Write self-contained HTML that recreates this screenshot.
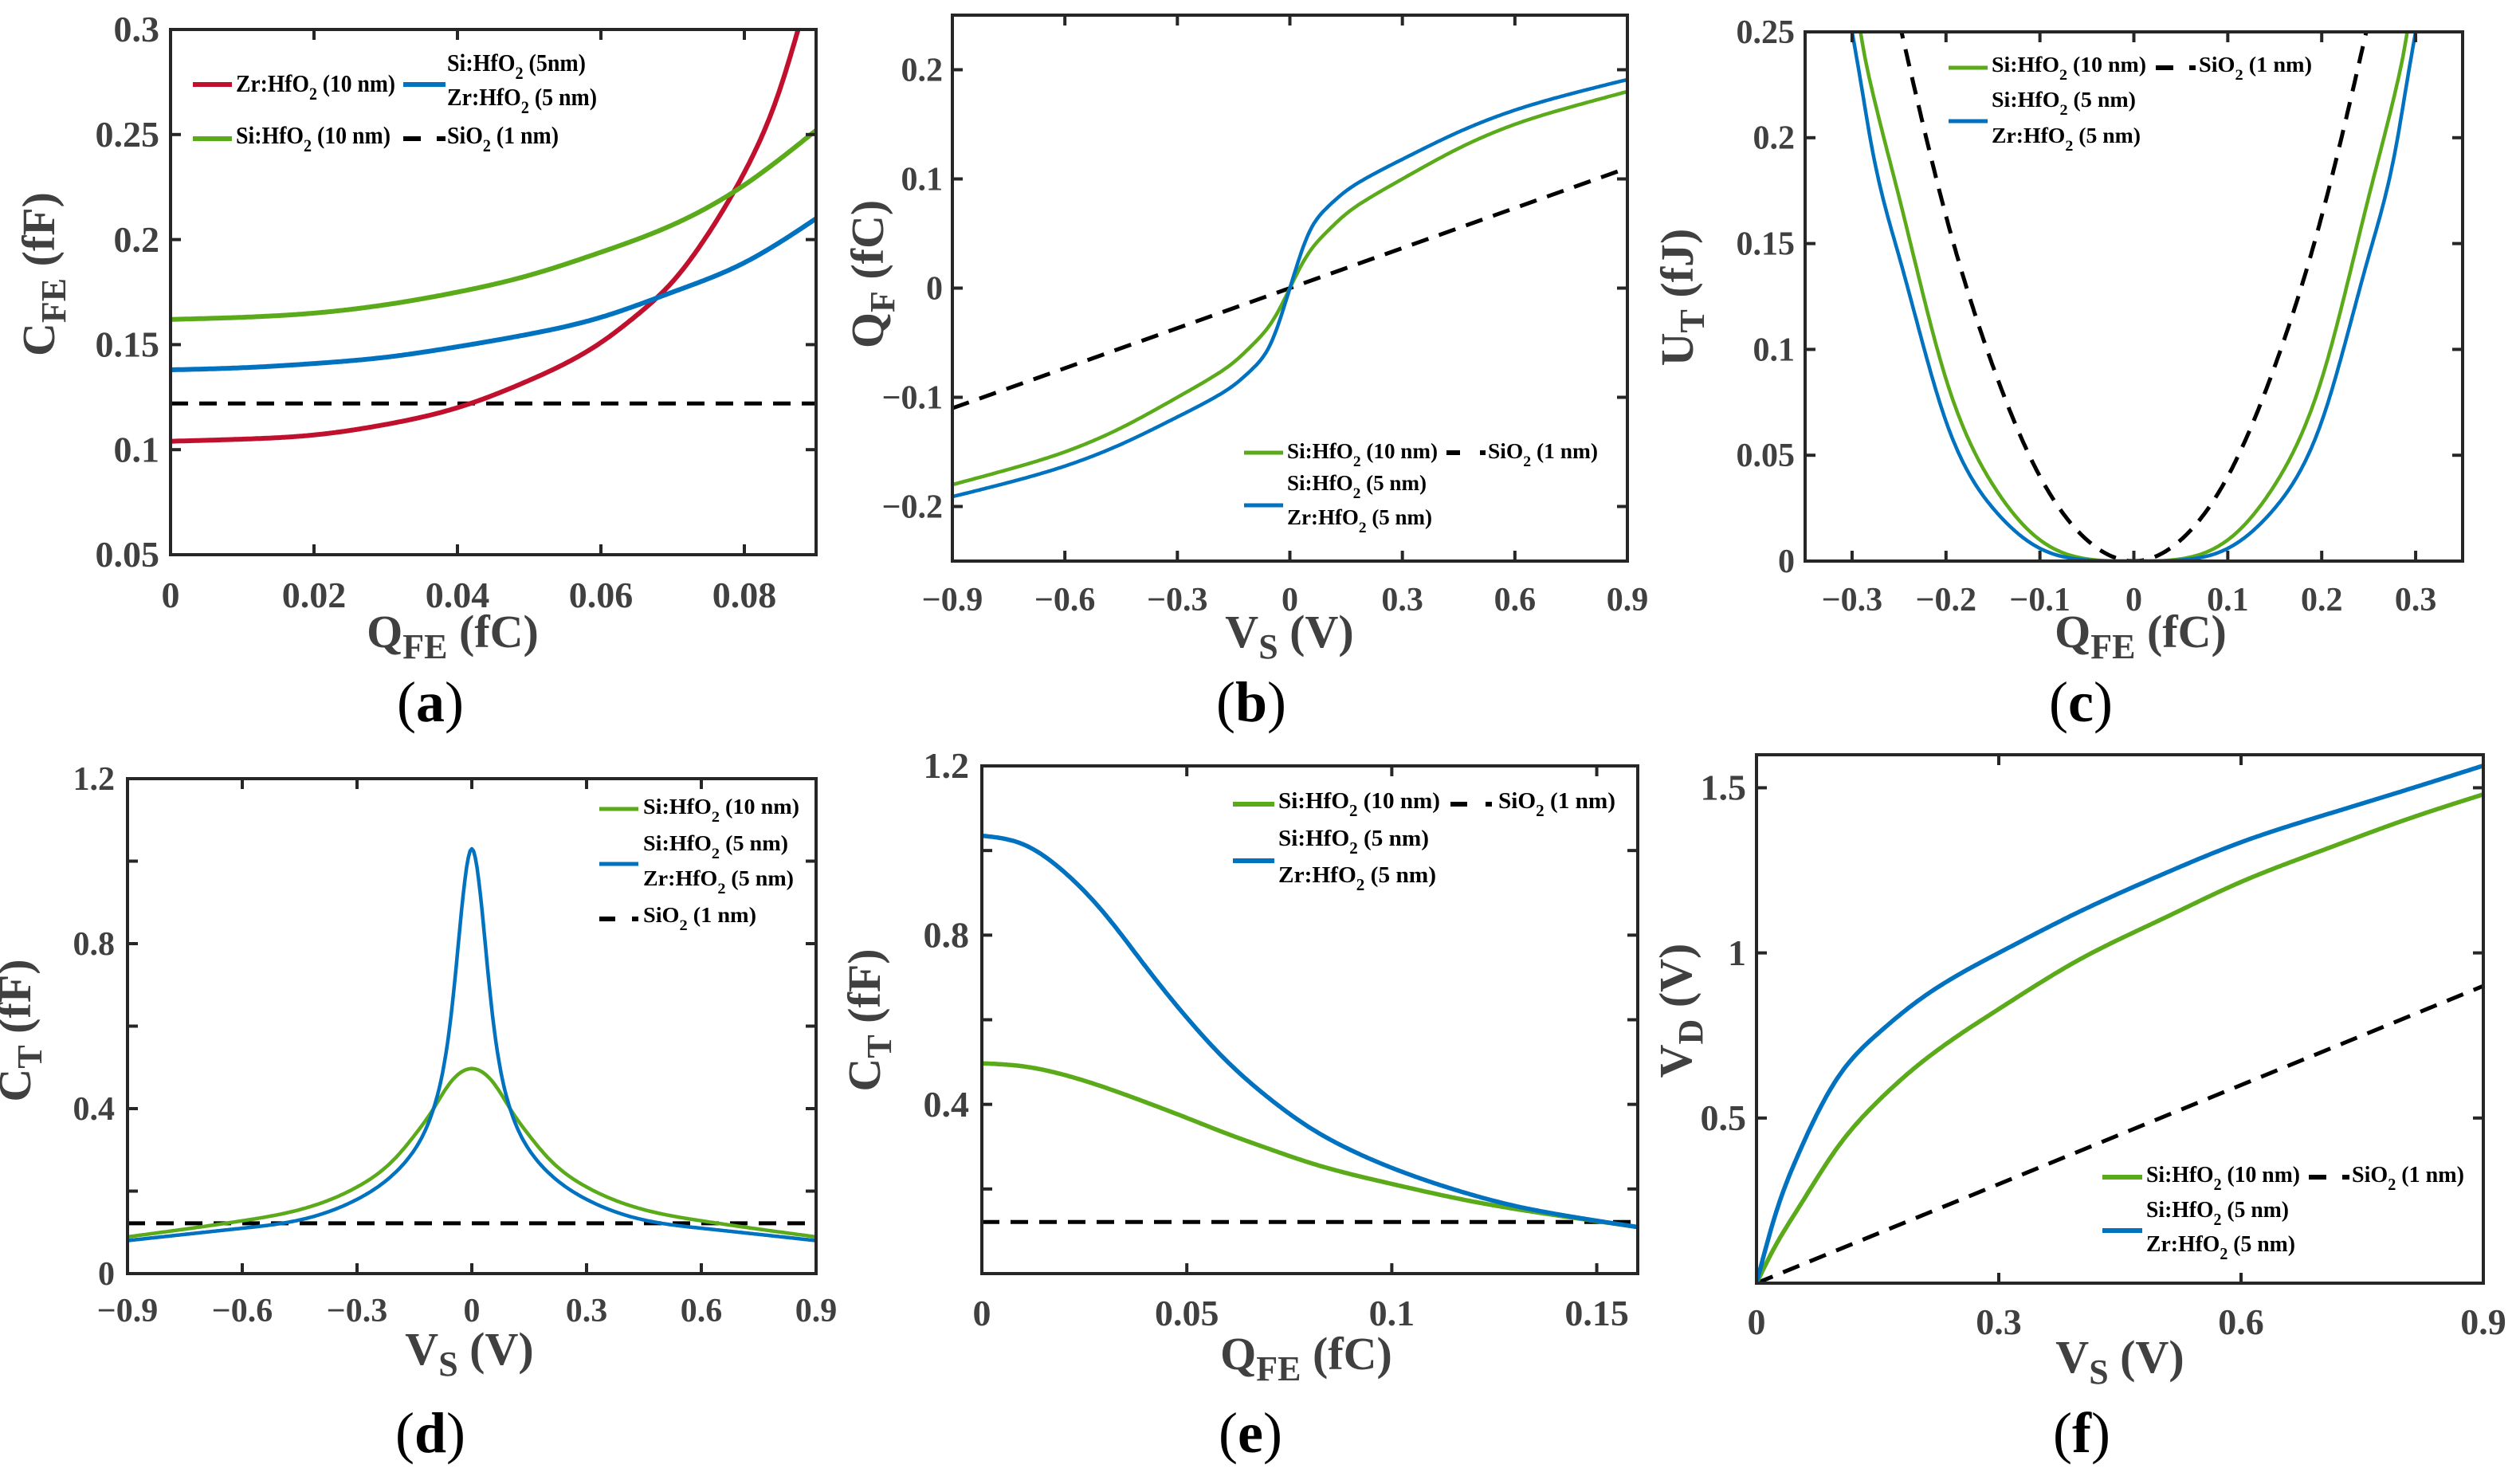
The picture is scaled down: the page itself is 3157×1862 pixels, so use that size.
<!DOCTYPE html>
<html><head><meta charset="utf-8">
<style>
html,body{margin:0;padding:0;background:#fff;}
svg{display:block;}
text{font-family:"Liberation Serif",serif;}
</style></head>
<body>
<svg id="fig" width="3157" height="1862" viewBox="0 0 3157 1862" xmlns="http://www.w3.org/2000/svg">
<rect x="0" y="0" width="3157" height="1862" fill="#fff"/>
</svg>
<script>
// ---------- data ----------
const aX=[0,0.01,0.02,0.03,0.04,0.05,0.06,0.07,0.08,0.09];
const aGreen=[0.162,0.163,0.165,0.169,0.175,0.183,0.194,0.207,0.226,0.252];
const aBlue=[0.138,0.139,0.141,0.144,0.149,0.155,0.163,0.175,0.189,0.210];
const aRedX=[0,0.01,0.02,0.03,0.04,0.05,0.06,0.065,0.07,0.075,0.08,0.085,0.0875];
const aRed=[0.104,0.105,0.107,0.112,0.120,0.133,0.151,0.164,0.180,0.203,0.232,0.272,0.300];
const aDash=[0.122,0.122];
const aDashX=[0,0.09];

const bX=[-0.9,-0.75,-0.6,-0.45,-0.3,-0.2,-0.15,-0.1,-0.05,-0.02,0,0.02,0.05,0.1,0.15,0.2,0.3,0.45,0.6,0.75,0.9];
const bGreen=[-0.180,-0.166,-0.150,-0.128,-0.100,-0.080,-0.068,-0.052,-0.032,-0.014,0,0.014,0.032,0.052,0.068,0.080,0.100,0.128,0.150,0.166,0.180];
const bBlue=[-0.191,-0.178,-0.163,-0.143,-0.118,-0.100,-0.089,-0.074,-0.050,-0.022,0,0.022,0.050,0.074,0.089,0.100,0.118,0.143,0.163,0.178,0.191];
const bDashX=[-0.9,0.9];
const bDash=[-0.110,0.110];

const cX=[-0.30,-0.291,-0.28,-0.25,-0.2,-0.15,-0.1,-0.05,0,0.05,0.1,0.15,0.2,0.25,0.28,0.291,0.30];
const cGreen=[0.28,0.25,0.225,0.172,0.086,0.036,0.010,0.001,0,0.001,0.010,0.036,0.086,0.172,0.225,0.25,0.28];
const cBlue=[0.25,0.227,0.198,0.144,0.066,0.025,0.006,0.0005,0,0.0005,0.006,0.025,0.066,0.144,0.198,0.227,0.25];
const cDashX=[-0.25,-0.2,-0.15,-0.1,-0.05,0,0.05,0.1,0.15,0.2,0.25];
const cDash=[0.255,0.163,0.092,0.040,0.010,0,0.010,0.040,0.092,0.163,0.255];

const dX=[-0.9,-0.6,-0.45,-0.3,-0.2,-0.15,-0.1,-0.07,-0.05,-0.03,0,0.03,0.05,0.07,0.1,0.15,0.2,0.3,0.45,0.6,0.9];
const dGreen=[0.089,0.128,0.155,0.21,0.28,0.335,0.40,0.445,0.47,0.487,0.497,0.487,0.47,0.445,0.40,0.335,0.28,0.21,0.155,0.128,0.089];
const dBlue=[0.08,0.11,0.13,0.18,0.245,0.30,0.40,0.52,0.66,0.85,1.03,0.85,0.66,0.52,0.40,0.30,0.245,0.18,0.13,0.11,0.08];
const dDashX=[-0.9,0.9];
const dDash=[0.122,0.122];

const eX=[0,0.01,0.02,0.03,0.04,0.05,0.06,0.07,0.08,0.09,0.10,0.11,0.12,0.13,0.14,0.15,0.16];
const eGreen=[0.497,0.49,0.47,0.44,0.405,0.368,0.33,0.295,0.262,0.235,0.212,0.190,0.170,0.153,0.138,0.124,0.110];
const eBlue=[1.035,1.015,0.95,0.85,0.725,0.605,0.50,0.415,0.345,0.292,0.250,0.215,0.185,0.160,0.141,0.125,0.110];
const eDashX=[0,0.16];
const eDash=[0.122,0.122];

const fX=[0,0.025,0.05,0.1,0.15,0.2,0.3,0.4,0.5,0.6,0.7,0.8,0.9];
const fGreen=[0,0.12,0.22,0.41,0.55,0.66,0.83,0.98,1.10,1.215,1.31,1.40,1.48];
const fBlue=[0,0.22,0.38,0.62,0.755,0.855,1.0,1.125,1.235,1.335,1.415,1.49,1.567];
const fDashX=[0,0.9];
const fDash=[0,0.9];

// tick arrays
const aXTicks=[0,0.02,0.04,0.06,0.08], aXLabels=["0","0.02","0.04","0.06","0.08"];
const aYTicks=[0.05,0.1,0.15,0.2,0.25,0.3], aYLabels=["0.05","0.1","0.15","0.2","0.25","0.3"];
const bXTicks=[-0.9,-0.6,-0.3,0,0.3,0.6,0.9], bXLabels=["−0.9","−0.6","−0.3","0","0.3","0.6","0.9"];
const bYTicks=[-0.2,-0.1,0,0.1,0.2], bYLabels=["−0.2","−0.1","0","0.1","0.2"];
const cXTicks=[-0.3,-0.2,-0.1,0,0.1,0.2,0.3], cXLabels=["−0.3","−0.2","−0.1","0","0.1","0.2","0.3"];
const cYTicks=[0,0.05,0.1,0.15,0.2,0.25], cYLabels=["0","0.05","0.1","0.15","0.2","0.25"];
const dXTicks=bXTicks, dXLabels=bXLabels;
const dYTicks=[0,0.2,0.4,0.6,0.8,1.0,1.2], dYLabels=["0","","0.4","","0.8","","1.2"];
const eXTicks=[0,0.05,0.1,0.15], eXLabels=["0","0.05","0.1","0.15"];
const eYTicks=[0.2,0.4,0.6,0.8,1.0,1.2], eYLabels=["","0.4","","0.8","","1.2"];
const fXTicks=[0,0.3,0.6,0.9], fXLabels=["0","0.3","0.6","0.9"];
const fYTicks=[0.5,1,1.5], fYLabels=["0.5","1","1.5"];

const GREEN="#5aaa1a", BLUE="#0072bf", RED="#c0102e", TXT="#404040";
const NS="http://www.w3.org/2000/svg";
const svg=document.getElementById('fig');

function mk(tag,attrs,parent){const e=document.createElementNS(NS,tag);for(const k in attrs)e.setAttribute(k,attrs[k]);(parent||svg).appendChild(e);return e;}

// natural cubic spline interpolation in data space
function interp(xs,ys){
  const n=xs.length;
  if(n<3)return x=>ys[0]+(ys[n-1]-ys[0])*(x-xs[0])/(xs[n-1]-xs[0]);
  const h=[],al=[],l=[1],mu=[0],z=[0],c=new Array(n).fill(0),b=[],d=[];
  for(let i=0;i<n-1;i++)h.push(xs[i+1]-xs[i]);
  for(let i=1;i<n-1;i++)al[i]=3/h[i]*(ys[i+1]-ys[i])-3/h[i-1]*(ys[i]-ys[i-1]);
  for(let i=1;i<n-1;i++){l[i]=2*(xs[i+1]-xs[i-1])-h[i-1]*mu[i-1];mu[i]=h[i]/l[i];z[i]=(al[i]-h[i-1]*z[i-1])/l[i];}
  for(let j=n-2;j>=0;j--){c[j]=(j>0?z[j]:0)-mu[j]*c[j+1];if(j===0)c[0]=0;}
  for(let j=0;j<n-1;j++){b[j]=(ys[j+1]-ys[j])/h[j]-h[j]*(c[j+1]+2*c[j])/3;d[j]=(c[j+1]-c[j])/(3*h[j]);}
  return function(x){
    let i=0;while(i<n-2&&x>xs[i+1])i++;
    const t=x-xs[i];return ys[i]+b[i]*t+c[i]*t*t+d[i]*t*t*t;
  };
}

function panel(p){
  const g=mk('g',{});
  
  
  const sx=v=>p.x0+(v-p.xmin)/(p.xmax-p.xmin)*(p.x1-p.x0);
  const sy=v=>p.y1-(v-p.ymin)/(p.ymax-p.ymin)*(p.y1-p.y0);
  const cp=mk('clipPath',{id:'clip-'+p.id},g);
  mk('rect',{x:p.x0,y:p.y0,width:p.x1-p.x0,height:p.y1-p.y0},cp);
  const sg=mk('g',{'clip-path':'url(#clip-'+p.id+')'},g);
  p.series.forEach(s=>{
    const f=interp(s.x,s.y);
    const N=s.x.length<=2?1:400;
    const a=s.x[0],b=s.x[s.x.length-1];
    let d="";
    for(let k=0;k<=N;k++){const xv=a+(b-a)*k/N;d+=(k?"L":"M")+sx(xv).toFixed(1)+","+sy(f(xv)).toFixed(1);}
    const path=mk('path',{d:d,fill:'none',stroke:s.color,'stroke-width':s.w||5,'stroke-linejoin':'round'},sg);
    if(s.dash)path.setAttribute('stroke-dasharray',s.dash);
    
    
  });
  const fr=mk('rect',{x:p.x0,y:p.y0,width:p.x1-p.x0,height:p.y1-p.y0,fill:'none',stroke:'#262626','stroke-width':4},g);
  
  
  const tl=13;
  p.xt.forEach((v,i)=>{
    const x=sx(v);
    mk('line',{x1:x,x2:x,y1:p.y1,y2:p.y1-tl,stroke:'#262626','stroke-width':4},g);
    mk('line',{x1:x,x2:x,y1:p.y0,y2:p.y0+tl,stroke:'#262626','stroke-width':4},g);
    if(p.xl[i]){
      const t=mk('text',{x:x,y:p.xlb,'text-anchor':'middle','font-size':p.fs,'font-weight':'bold',fill:TXT},g);
      t.textContent=p.xl[i];
      
      
    }
  });
  p.yt.forEach((v,i)=>{
    const y=sy(v);
    mk('line',{x1:p.x0,x2:p.x0+tl,y1:y,y2:y,stroke:'#262626','stroke-width':4},g);
    mk('line',{x1:p.x1,x2:p.x1-tl,y1:y,y2:y,stroke:'#262626','stroke-width':4},g);
    if(p.yl[i]){
      const t=mk('text',{x:p.ylr,y:y+p.fs*0.33,'text-anchor':'end','font-size':p.fs,'font-weight':'bold',fill:TXT},g);
      t.textContent=p.yl[i];
      
      
    }
  });
  const xt=mk('text',{x:p.xtc,y:p.xtb,'text-anchor':'middle','font-size':58,'font-weight':'bold',fill:TXT},g);
  
  
  xt.innerHTML=p.xtitle;
  const yt=mk('text',{x:0,y:0,'text-anchor':'middle','font-size':58,'font-weight':'bold',fill:TXT,transform:'translate('+p.ytx+','+p.yty+') rotate(-90)'},g);
  
  
  yt.innerHTML=p.ytitle;
  const pl=mk('text',{x:p.plx,y:p.ply,'text-anchor':'middle','font-size':72,fill:'#000'},g);
  
  
  pl.innerHTML='(<tspan font-weight="bold">'+p.id+'</tspan>)';
  const lg=mk('g',{},g);
  
  
  p.legend.lines.forEach(l=>{
    const ln=mk('line',{x1:l[0],x2:l[1],y1:l[2],y2:l[2],stroke:l[3],'stroke-width':l[4]||6},lg);
    
    
  });
  p.legend.texts.forEach(t=>{
    const te=mk('text',{x:t[0],y:t[1],'font-size':p.legend.fs,'font-weight':'bold',fill:'#000',textLength:t[3],lengthAdjust:'spacingAndGlyphs'},lg);
    
    
    te.innerHTML=t[2];
  });
}
function sub(a,b,c){return a+'<tspan dy="10" font-size="0.72em">'+b+'</tspan><tspan dy="-10">'+c+'</tspan>';}
const SIH10=sub('Si:HfO','2',' (10 nm)'), SIH5=sub('Si:HfO','2',' (5 nm)'), ZRH5=sub('Zr:HfO','2',' (5 nm)'), SIO=sub('SiO','2',' (1 nm)');
function dashSw(x1,x2,x3,x4,y){return [[x1,x2,y,'#000'],[x3,x4,y,'#000']];}

panel({id:'a',x0:214,x1:1024,y0:37,y1:696,xmin:0,xmax:0.09,ymin:0.05,ymax:0.3,
  xt:aXTicks,xl:aXLabels,yt:aYTicks,yl:aYLabels,fs:46,xlb:762,ylr:200,
  xtitle:'Q<tspan dy="14" font-size="44">FE</tspan><tspan dy="-14"> (fC)</tspan>',xtc:568,xtb:812,
  ytitle:'C<tspan dy="14" font-size="44">FE</tspan><tspan dy="-14"> (fF)</tspan>',ytx:68,yty:344,plx:540,ply:905,
  series:[{name:'sio2-line',x:aDashX,y:aDash,color:'#000',dash:'22 14',w:5},
          {name:'zr-hfo2-10nm-curve',x:aRedX,y:aRed,color:RED,w:6},
          {name:'si-hfo2-10nm-curve',x:aX,y:aGreen,color:GREEN,w:6},
          {name:'si-zr-hfo2-5nm-curve',x:aX,y:aBlue,color:BLUE,w:6}],
  legend:{fs:31,lines:[[242,291,106,RED],[506,559,106,BLUE],[242,291,174,GREEN]].concat(dashSw(506,528,548,559,174)),
    texts:[[296,115,sub('Zr:HfO','2',' (10 nm)'),200],[561,89,sub('Si:HfO','2',' (5nm)'),174],[561,132,ZRH5,188],[296,180,SIH10,194],[561,180,SIO,140]]}});

panel({id:'b',x0:1195,x1:2042,y0:19,y1:704,xmin:-0.9,xmax:0.9,ymin:-0.25,ymax:0.25,
  xt:bXTicks,xl:bXLabels,yt:bYTicks,yl:bYLabels,fs:42,xlb:766,ylr:1183,
  xtitle:'V<tspan dy="14" font-size="44">S</tspan><tspan dy="-14"> (V)</tspan>',xtc:1618,xtb:812,
  ytitle:'Q<tspan dy="14" font-size="44">F</tspan><tspan dy="-14"> (fC)</tspan>',ytx:1108,yty:344,plx:1570,ply:905,
  series:[{name:'sio2-line',x:bDashX,y:bDash,color:'#000',dash:'22 14',w:5},
          {name:'si-hfo2-10nm-curve',x:bX,y:bGreen,color:GREEN,w:4.5},
          {name:'si-zr-hfo2-5nm-curve',x:bX,y:bBlue,color:BLUE,w:4.5}],
  legend:{fs:27,lines:[[1561,1610,568,GREEN,5],[1561,1610,634,BLUE,5]].concat(dashSw(1815,1832,1857,1864,568)),
    texts:[[1615,575,SIH10,189],[1867,575,SIO,138],[1615,615,SIH5,175],[1615,658,ZRH5,182]]}});

panel({id:'c',x0:2265,x1:3090,y0:40,y1:704,xmin:-0.35,xmax:0.35,ymin:0,ymax:0.25,
  xt:cXTicks,xl:cXLabels,yt:cYTicks,yl:cYLabels,fs:42,xlb:766,ylr:2252,
  xtitle:'Q<tspan dy="14" font-size="44">FE</tspan><tspan dy="-14"> (fC)</tspan>',xtc:2686,xtb:812,
  ytitle:'U<tspan dy="14" font-size="44">T</tspan><tspan dy="-14"> (fJ)</tspan>',ytx:2124,yty:373,plx:2611,ply:905,
  series:[{name:'sio2-curve',x:cDashX,y:cDash,color:'#000',dash:'22 14',w:5},
          {name:'si-hfo2-10nm-curve',x:cX,y:cGreen,color:GREEN,w:4.5},
          {name:'si-zr-hfo2-5nm-curve',x:cX,y:cBlue,color:BLUE,w:4.5}],
  legend:{fs:27,lines:[[2445,2494,85,GREEN,5],[2445,2494,152,BLUE,5]].concat(dashSw(2705,2727,2747,2755,85)),
    texts:[[2499,90,SIH10,194],[2759,90,SIO,142],[2499,134,SIH5,181],[2499,179,ZRH5,187]]}});

panel({id:'d',x0:160,x1:1024,y0:977,y1:1598,xmin:-0.9,xmax:0.9,ymin:0,ymax:1.2,
  xt:dXTicks,xl:dXLabels,yt:dYTicks,yl:dYLabels,fs:42,xlb:1658,ylr:144,
  xtitle:'V<tspan dy="14" font-size="44">S</tspan><tspan dy="-14"> (V)</tspan>',xtc:589,xtb:1712,
  ytitle:'C<tspan dy="14" font-size="44">T</tspan><tspan dy="-14"> (fF)</tspan>',ytx:38,yty:1293,plx:540,ply:1822,
  series:[{name:'sio2-line',x:dDashX,y:dDash,color:'#000',dash:'22 14',w:5},
          {name:'si-hfo2-10nm-curve',x:dX,y:dGreen,color:GREEN,w:4.5},
          {name:'si-zr-hfo2-5nm-curve',x:dX,y:dBlue,color:BLUE,w:4.5}],
  legend:{fs:27,lines:[[752,801,1015,GREEN,5],[752,801,1084,BLUE,5]].concat(dashSw(752,772,793,801,1153)),
    texts:[[807,1021,SIH10,196],[807,1067,SIH5,182],[807,1111,ZRH5,189],[807,1157,SIO,142]]}});

panel({id:'e',x0:1232,x1:2055,y0:961,y1:1598,xmin:0,xmax:0.16,ymin:0,ymax:1.2,
  xt:eXTicks,xl:eXLabels,yt:eYTicks,yl:eYLabels,fs:46,xlb:1663,ylr:1216,
  xtitle:'Q<tspan dy="14" font-size="44">FE</tspan><tspan dy="-14"> (fC)</tspan>',xtc:1639,xtb:1718,
  ytitle:'C<tspan dy="14" font-size="44">T</tspan><tspan dy="-14"> (fF)</tspan>',ytx:1104,yty:1280,plx:1569,ply:1822,
  series:[{name:'sio2-line',x:eDashX,y:eDash,color:'#000',dash:'22 14',w:5},
          {name:'si-hfo2-10nm-curve',x:eX,y:eGreen,color:GREEN,w:5.5},
          {name:'si-zr-hfo2-5nm-curve',x:eX,y:eBlue,color:BLUE,w:5.5}],
  legend:{fs:29,lines:[[1547,1599,1009,GREEN,6],[1547,1599,1080,BLUE,6]].concat(dashSw(1820,1841,1864,1872,1009)),
    texts:[[1604,1014,SIH10,203],[1880,1014,SIO,147],[1604,1061,SIH5,189],[1604,1107,ZRH5,198]]}});

panel({id:'f',x0:2204,x1:3116,y0:947,y1:1610,xmin:0,xmax:0.9,ymin:0,ymax:1.6,
  xt:fXTicks,xl:fXLabels,yt:fYTicks,yl:fYLabels,fs:46,xlb:1674,ylr:2191,
  xtitle:'V<tspan dy="14" font-size="44">S</tspan><tspan dy="-14"> (V)</tspan>',xtc:2660,xtb:1722,
  ytitle:'V<tspan dy="14" font-size="44">D</tspan><tspan dy="-14"> (V)</tspan>',ytx:2122,yty:1268,plx:2612,ply:1822,
  series:[{name:'sio2-line',x:fDashX,y:fDash,color:'#000',dash:'22 14',w:5},
          {name:'si-hfo2-10nm-curve',x:fX,y:fGreen,color:GREEN,w:5.5},
          {name:'si-zr-hfo2-5nm-curve',x:fX,y:fBlue,color:BLUE,w:5.5}],
  legend:{fs:29,lines:[[2638,2688,1477,GREEN,6],[2638,2688,1544,BLUE,6]].concat(dashSw(2897,2919,2939,2948,1477)),
    texts:[[2693,1483,SIH10,193],[2951,1483,SIO,141],[2693,1527,SIH5,179],[2693,1570,ZRH5,187]]}});
</script>
</body></html>
